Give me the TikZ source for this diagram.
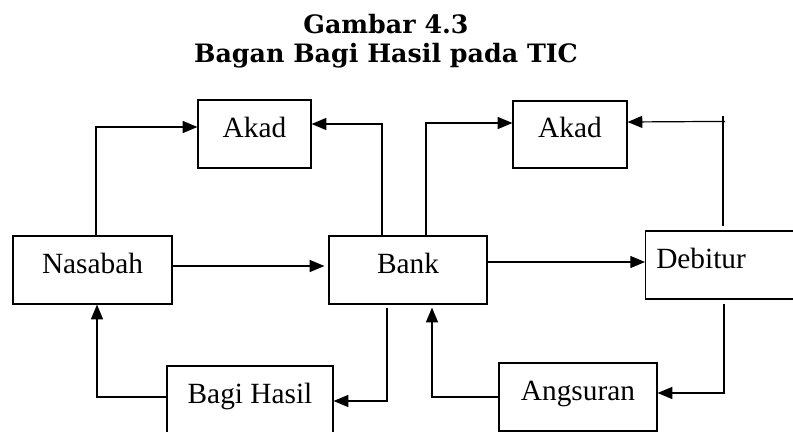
\documentclass[tikz,border=0pt]{standalone}
\usepackage{fontspec}
\setmainfont{Liberation Serif}
\newfontfamily\judulfont{DejaVu Serif}
\usetikzlibrary{arrows.meta,calc}

\begin{document}
\begin{tikzpicture}[x=0.75pt,y=0.75pt,yscale=-1,xscale=1,
		box/.style={draw, line width=0.9pt, inner sep=0pt, text height=16pt, text depth=11.4pt, font=\fontsize{22}{26}\selectfont},
		ln/.style={line width=0.9pt},
		arr/.style={ln, -{Triangle[length=11pt,width=9pt]}},
		judul/.style={align=center, inner sep=0pt, font=\judulfont\bfseries\fontsize{19}{21.75}\selectfont}]
		\useasboundingbox (0,0) rectangle (793,432);
		\clip (0,0) rectangle (793,432);
		
		% Text Node
		\node[judul, anchor=north] (judul) at (386,14) {Gambar 4.3\\Bagan Bagi Hasil pada TIC};
		
		%Shape: Rectangle
		\node[box, minimum width=119.25pt, minimum height=51pt] (nasabah) at (92.5,270) {Nasabah};
		%Shape: Rectangle
		\node[box, minimum width=84.75pt, minimum height=51pt] (akadA) at (254.5,134) {Akad};
		%Shape: Rectangle
		\node[box, minimum width=118.5pt, minimum height=51pt] (bank) at (408,270) {Bank};
		%Shape: Rectangle
		\node[box, minimum width=85.5pt, minimum height=50.25pt] (akadB) at (570,134.5) {Akad};
		%Shape: Rectangle
		\node[box, anchor=west, minimum width=120pt, minimum height=51pt, inner xsep=8pt, text width=104pt, align=left] (debitur) at (645,265) {Debitur};
		%Shape: Rectangle
		\node[box, minimum width=124.5pt, minimum height=51pt] (bagi) at (250,400) {Bagi Hasil};
		%Shape: Rectangle
		\node[box, minimum width=118.5pt, minimum height=51pt] (angsuran) at (578,397) {Angsuran};
		
		%Straight Lines
		\draw[arr] ($(nasabah.north)+(3.5,0)$) |- ($(akadA.west)+(0,-7)$);
		%Straight Lines
		\draw[arr] ($(bank.north)+(-26,0)$) |- ($(akadA.east)+(0,-10)$);
		%Straight Lines
		\draw[arr] ($(nasabah.east)+(-2,-4)$) -- ($(bank.west)+(-4,-4)$);
		%Straight Lines
		\draw[arr] ($(bank.north)+(18,0)$) |- ($(akadB.west)+(0,-11.5)$);
		%Straight Lines
		\draw[ln] ($(debitur.north west)+(78,-4)$) coordinate (d1) -- ++(0,-110);
		\draw[arr] ($(d1)+(2,-105)$) -- ($(akadB.east)+(0,-12.5)$);
		%Straight Lines
		\draw[arr] ($(bank.east)+(-2,-8)$) -- ($(debitur.west)+(0,-3)$);
		%Straight Lines
		\draw[arr] ($(bank.south)+(-21,3)$) |- ($(bagi.east)+(0,1)$);
		%Straight Lines
		\draw[arr] ($(bagi.west)+(0,-3)$) -| ($(nasabah.south)+(4.5,0)$);
		%Straight Lines
		\draw[arr] ($(debitur.south west)+(79,4)$) |- ($(angsuran.east)+(0,-4)$);
		%Straight Lines
		\draw[arr] (angsuran.west) -| ($(bank.south)+(24,3)$);
		
\end{tikzpicture}
\end{document}
